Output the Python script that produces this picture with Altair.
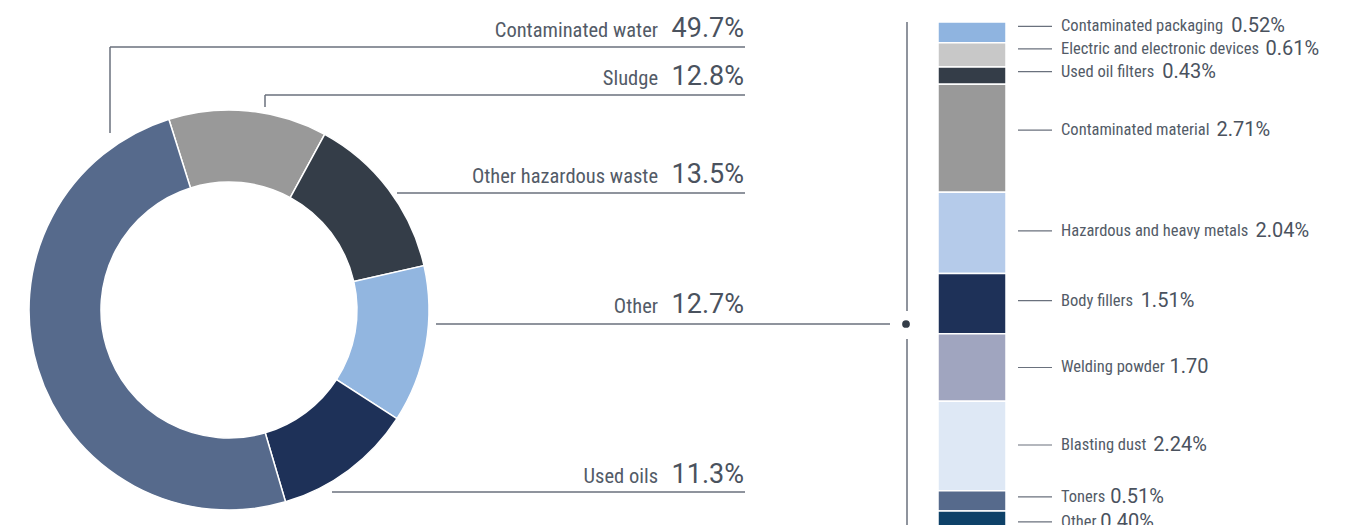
import math
import altair as alt
import pandas as pd

# ---------------- data ----------------
DONUT_CATS = ["Sludge", "Other hazardous waste", "Other", "Used oils", "Contaminated water"]
DONUT_VALS = [12.8, 13.5, 12.7, 11.3, 49.7]
DONUT_LABELS = ["12.8%", "13.5%", "12.7%", "11.3%", "49.7%"]

BAR_CATS = ["Contaminated packaging", "Electric and electronic devices", "Used oil filters",
            "Contaminated material", "Hazardous and heavy metals", "Body fillers",
            "Welding powder", "Blasting dust", "Toners", "Other"]
BAR_VALS = [0.52, 0.61, 0.43, 2.71, 2.04, 1.51, 1.70, 2.24, 0.51, 0.40]
BAR_LABELS = ["0.52%", "0.61%", "0.43%", "2.71%", "2.04%", "1.51%", "1.70", "2.24%", "0.51%", "0.40%"]

# ---------------- styles / layout ----------------
DONUT_COLORS = ["#999999", "#343d48", "#92b6e0", "#1e3158", "#566a8c"]
BAR_COLORS = ["#8fb4e0", "#c8c8c8", "#343d48", "#999999", "#b5cbea",
              "#1e3158", "#a0a5bf", "#dee8f5", "#566a8c", "#0e4168"]
LINE_C = "#6a717d"
TEXT_C = "#535b67"
NUM_C = "#4a525e"
NAME_FONT = "Roboto Condensed, DejaVu Sans Condensed, sans-serif"
NUM_FONT = "Roboto, sans-serif"

W, H = 1334, 517
CX, CY, R_OUT, R_IN = 221, 302, 200, 128
START = math.radians(-17.5)

# name x end, value x end, baseline y, line y, line x0, line x1
LEFT_LAYOUT = {
    "Contaminated water": (650, 736, 29, 39, 102, 737),
    "Sludge": (650, 736, 77, 87, 257, 737),
    "Other hazardous waste": (650, 736, 175, 185, 389, 737),
    "Other": (650, 736, 305, 316, 428, 882),
    "Used oils": (650, 736, 475, 484, 324, 737),
}
VERTICALS = [(102, 39, 125), (257, 87, 99), (899, 14, 303), (899, 331, 540)]

BAR_TOP = 14
PX_PER = 39.85
LABEL_NUDGE_PX = [-6, -6, -4, -8, -2, -3, 0, -1, -4, 3]
VALUE_GAP = [9, 9, 9, 8, 8, 8, 5, 8, 4, 4]

# Roboto advance widths (1/2048 em); Roboto Condensed taken as ~0.9 of them
RW = dict(zip("abcdefghijklmnopqrstuvwxyz ",
              [1086, 1120, 1045, 1126, 1058, 693, 1120, 1102, 486, 478, 1014, 486, 1751, 1103,
               1139, 1120, 1133, 677, 1031, 655, 1102, 968, 1502, 991, 946, 991, 507]))
RW.update({"C": 1300, "E": 1162, "U": 1296, "H": 1424, "B": 1244, "W": 1774, "T": 1221, "O": 1378})
COND = 0.9


def name_width(s, size):
    return sum(RW.get(ch, 1100) for ch in s) / 2048 * COND * size


NAME_SIZE_L = 20.5
NUM_SIZE_L = 27
NAME_SIZE_R = 16.5
NUM_SIZE_R = 20
NAME_X_R = 1053

# ---------------- tables ----------------
donut_df = pd.DataFrame({"cat": DONUT_CATS, "value": DONUT_VALS,
                         "idx": list(range(len(DONUT_CATS)))})

cum = 0.0
rows = []
for i, (c, v, lab) in enumerate(zip(BAR_CATS, BAR_VALS, BAR_LABELS)):
    mid = cum + v / 2 + LABEL_NUDGE_PX[i] / PX_PER
    cum += v
    rows.append({"cat": c, "value": v, "idx": i, "lab": lab, "label_y": mid,
                 "vx": NAME_X_R + name_width(c, NAME_SIZE_R) + VALUE_GAP[i]})
bar_df = pd.DataFrame(rows)
TOTAL = sum(BAR_VALS)

ONE = pd.DataFrame({"k": [0]})

yscale = alt.Scale(domain=[0, TOTAL], range=[BAR_TOP, BAR_TOP + TOTAL * PX_PER])
xscale = alt.Scale(domain=[0, W], range=[0, W])

layers = []

layers.append(
    alt.Chart(donut_df).mark_arc(radius=R_OUT, radius2=R_IN, stroke="white", strokeWidth=1.5)
    .encode(
        theta=alt.Theta("value:Q", stack=True,
                        scale=alt.Scale(range=[START, START + 2 * math.pi])),
        color=alt.Color("cat:N", scale=alt.Scale(domain=DONUT_CATS, range=DONUT_COLORS), legend=None),
        order=alt.Order("idx:Q"),
        x=alt.value(CX), y=alt.value(CY),
    )
)

for cat, lab in zip(DONUT_CATS, DONUT_LABELS):
    nx, vx, by, ly, x0, x1 = LEFT_LAYOUT[cat]
    layers.append(alt.Chart(ONE).mark_rule(color=LINE_C, strokeWidth=1.3)
                  .encode(x=alt.value(x0), x2=alt.value(x1), y=alt.value(ly)))
    layers.append(alt.Chart(ONE).mark_text(text=cat, align="right", baseline="alphabetic",
                                           font=NAME_FONT, fontSize=NAME_SIZE_L, color=TEXT_C)
                  .encode(x=alt.value(nx), y=alt.value(by)))
    layers.append(alt.Chart(ONE).mark_text(text=lab, align="right", baseline="alphabetic",
                                           font=NUM_FONT, fontSize=NUM_SIZE_L, color=NUM_C)
                  .encode(x=alt.value(vx), y=alt.value(by)))

for x, y0, y1 in VERTICALS:
    layers.append(alt.Chart(ONE).mark_rule(color=LINE_C, strokeWidth=1.5)
                  .encode(x=alt.value(x), y=alt.value(y0), y2=alt.value(y1)))

layers.append(alt.Chart(ONE).mark_circle(size=60, color="#343d48", opacity=1)
              .encode(x=alt.value(898), y=alt.value(316)))

layers.append(
    alt.Chart(bar_df).transform_stack(stack="value", as_=["y0", "y1"], groupby=[],
                                      sort=[alt.SortField("idx", order="ascending")])
    .mark_rect(stroke="white", strokeWidth=1.5)
    .encode(
        x=alt.value(930), x2=alt.value(998),
        y=alt.Y("y0:Q", scale=yscale, axis=None), y2="y1:Q",
        color=alt.Color("cat:N", scale=alt.Scale(domain=BAR_CATS, range=BAR_COLORS), legend=None),
    )
)
layers.append(
    alt.Chart(bar_df).mark_rule(color=LINE_C, strokeWidth=1.2)
    .encode(x=alt.value(1010), x2=alt.value(1044),
            y=alt.Y("label_y:Q", scale=yscale, axis=None))
)
layers.append(
    alt.Chart(bar_df).mark_text(align="left", baseline="middle", font=NAME_FONT,
                                fontSize=NAME_SIZE_R, color=TEXT_C)
    .encode(x=alt.value(NAME_X_R), y=alt.Y("label_y:Q", scale=yscale, axis=None), text="cat:N")
)
layers.append(
    alt.Chart(bar_df).mark_text(align="left", baseline="middle", font=NUM_FONT,
                                fontSize=NUM_SIZE_R, color=NUM_C)
    .encode(x=alt.X("vx:Q", scale=xscale, axis=None),
            y=alt.Y("label_y:Q", scale=yscale, axis=None), text="lab:N")
)

chart = alt.layer(*layers).properties(
    width=W, height=H, padding=0, autosize="none"
).resolve_scale(color="independent").configure_view(stroke=None)

chart.save("out.html", embed_options={"renderer": "svg", "actions": False})
